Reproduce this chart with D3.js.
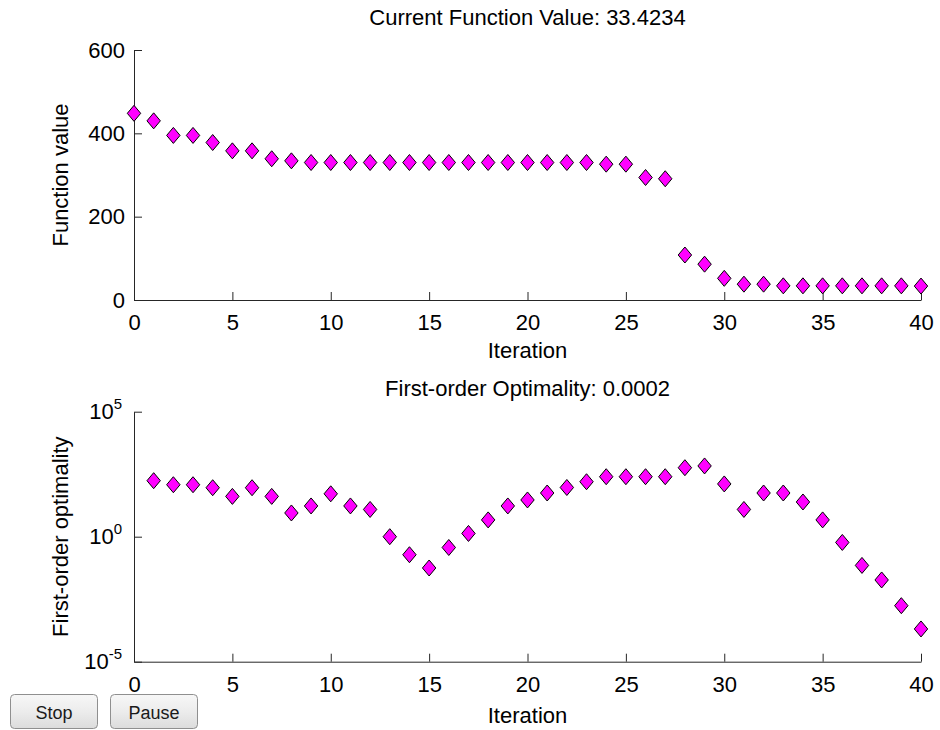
<!DOCTYPE html>
<html>
<head>
<meta charset="utf-8">
<script src="https://cdn.jsdelivr.net/npm/d3@7"></script>
<style>
  html, body { margin: 0; padding: 0; background: #fff; }
  svg { display: block; font-family: "Liberation Sans", Arial, Helvetica, sans-serif; }
</style>
</head>
<body>
<svg id="chart" width="940" height="730"></svg>
<script>
// ---- Data ----
const iterations = d3.range(0, 41);
const functionValues = [448, 430, 395, 395, 378, 358, 358, 339, 334, 330,
  330, 330, 330, 330, 330, 330, 330, 330, 330, 330,
  330, 330, 330, 330, 326, 326, 294, 291, 108, 86,
  52, 38, 38, 34, 34, 34, 34, 34, 34, 34, 33.4234];
const optIterations = d3.range(1, 41);
const optimality = [174, 120, 120, 91, 41, 91, 41, 8.9, 17, 52,
  17, 12.3, 1.0, 0.19, 0.056, 0.37, 1.35, 4.7, 17, 29.5,
  56, 93, 158, 251, 251, 251, 251, 575, 676, 129,
  12.3, 56, 56, 24.5, 4.7, 0.59, 0.071, 0.0186, 0.00174, 0.000204];
const xTicks = [0, 5, 10, 15, 20, 25, 30, 35, 40];
const fTicks = [0, 200, 400, 600];
const optTicks = [1e-5, 1e0, 1e5];
const optTickExp = ["-5", "0", "5"];
const topTitle = "Current Function Value: 33.4234";
const bottomTitle = "First-order Optimality: 0.0002";

// ---- Layout ----
const svg = d3.select("#chart");
const left = 134, right = 921;
const FS = 22;
const axisColor = "#262626";

const x = d3.scaleLinear().domain([0, 40]).range([left, right]);
const yTop = d3.scaleLinear().domain([0, 600]).range([300, 50]);
const yBot = d3.scaleLog().domain([1e-5, 1e5]).range([661.7, 411.7]);

const diamond = "M0,-8L6.7,0L0,8L-6.7,0Z";

function styleAxis(g) {
  g.select(".domain").attr("stroke", axisColor).attr("stroke-width", 1);
  g.selectAll(".tick line").attr("stroke", axisColor);
  g.selectAll(".tick text").attr("fill", "#000").attr("font-size", FS)
    .attr("font-family", "'Liberation Sans', Arial, sans-serif");
}

// ---- Top panel ----
const gxTop = svg.append("g").attr("transform", "translate(0,300)")
  .call(d3.axisBottom(x).tickValues(xTicks).tickFormat(d3.format("d")).tickSizeInner(-8).tickSizeOuter(0).tickPadding(9));
styleAxis(gxTop);
gxTop.selectAll(".tick text").attr("dy", "0.95em");

const gyTop = svg.append("g").attr("transform", `translate(${left},0)`)
  .call(d3.axisLeft(yTop).tickValues(fTicks).tickFormat(d3.format("d")).tickSizeInner(-8).tickSizeOuter(0).tickPadding(9));
styleAxis(gyTop);

svg.append("g").selectAll("path").data(iterations).join("path")
  .attr("d", diamond)
  .attr("transform", (d, i) => `translate(${x(d)},${yTop(functionValues[i])})`)
  .attr("fill", "#ff00ff").attr("stroke", "#000").attr("stroke-width", 1);

svg.append("text").attr("x", (left + right) / 2).attr("y", 25)
  .attr("text-anchor", "middle").attr("font-size", FS).text(topTitle);
svg.append("text").attr("x", (left + right) / 2).attr("y", 358)
  .attr("text-anchor", "middle").attr("font-size", FS).text("Iteration");
svg.append("text").attr("transform", `translate(68,${yTop(300)}) rotate(-90)`)
  .attr("text-anchor", "middle").attr("font-size", FS).text("Function value");

// ---- Bottom panel ----
const gxBot = svg.append("g").attr("transform", "translate(0,661.7)")
  .call(d3.axisBottom(x).tickValues(xTicks).tickFormat(d3.format("d")).tickSizeInner(-8).tickSizeOuter(0).tickPadding(9));
styleAxis(gxBot);
gxBot.selectAll(".tick text").attr("dy", "0.95em");

const gyBot = svg.append("g").attr("transform", `translate(${left},0)`)
  .call(d3.axisLeft(yBot).tickValues(optTicks).tickFormat(() => "").tickSizeInner(-8).tickSizeOuter(0).tickPadding(9));
styleAxis(gyBot);
gyBot.selectAll(".tick text").each(function(d, i) {
  const t = d3.select(this).text(null).attr("dy", null).attr("y", 7);
  t.append("tspan").text("10");
  t.append("tspan").attr("font-size", 15).attr("dy", -10).text(optTickExp[i]);
});
gyBot.selectAll(".tick text").attr("x", -12);

svg.append("g").selectAll("path").data(optIterations).join("path")
  .attr("d", diamond)
  .attr("transform", (d, i) => `translate(${x(d)},${yBot(optimality[i])})`)
  .attr("fill", "#ff00ff").attr("stroke", "#000").attr("stroke-width", 1);

svg.append("text").attr("x", (left + right) / 2).attr("y", 396)
  .attr("text-anchor", "middle").attr("font-size", FS).text(bottomTitle);
svg.append("text").attr("x", (left + right) / 2).attr("y", 723)
  .attr("text-anchor", "middle").attr("font-size", FS).text("Iteration");
svg.append("text").attr("transform", `translate(68,${yBot(1)}) rotate(-90)`)
  .attr("text-anchor", "middle").attr("font-size", FS).text("First-order optimality");

// ---- Buttons ----
const defs = svg.append("defs");
const grad = defs.append("linearGradient").attr("id", "btnGrad").attr("x1", 0).attr("y1", 0).attr("x2", 0).attr("y2", 1);
grad.append("stop").attr("offset", "0%").attr("stop-color", "#f7f7f7");
grad.append("stop").attr("offset", "50%").attr("stop-color", "#ececec");
grad.append("stop").attr("offset", "100%").attr("stop-color", "#dcdcdc");

const buttons = [{label: "Stop", x: 10}, {label: "Pause", x: 110}];
const bg = svg.append("g").selectAll("g").data(buttons).join("g")
  .attr("transform", d => `translate(${d.x},694)`);
bg.append("rect").attr("x", 0.5).attr("y", 0.5).attr("width", 87).attr("height", 34)
  .attr("rx", 4).attr("fill", "url(#btnGrad)").attr("stroke", "#8f8f8f");
bg.append("text").attr("x", 44).attr("y", 25).attr("text-anchor", "middle")
  .attr("font-size", 18).attr("fill", "#1a1a1a").text(d => d.label);
</script>
</body>
</html>
